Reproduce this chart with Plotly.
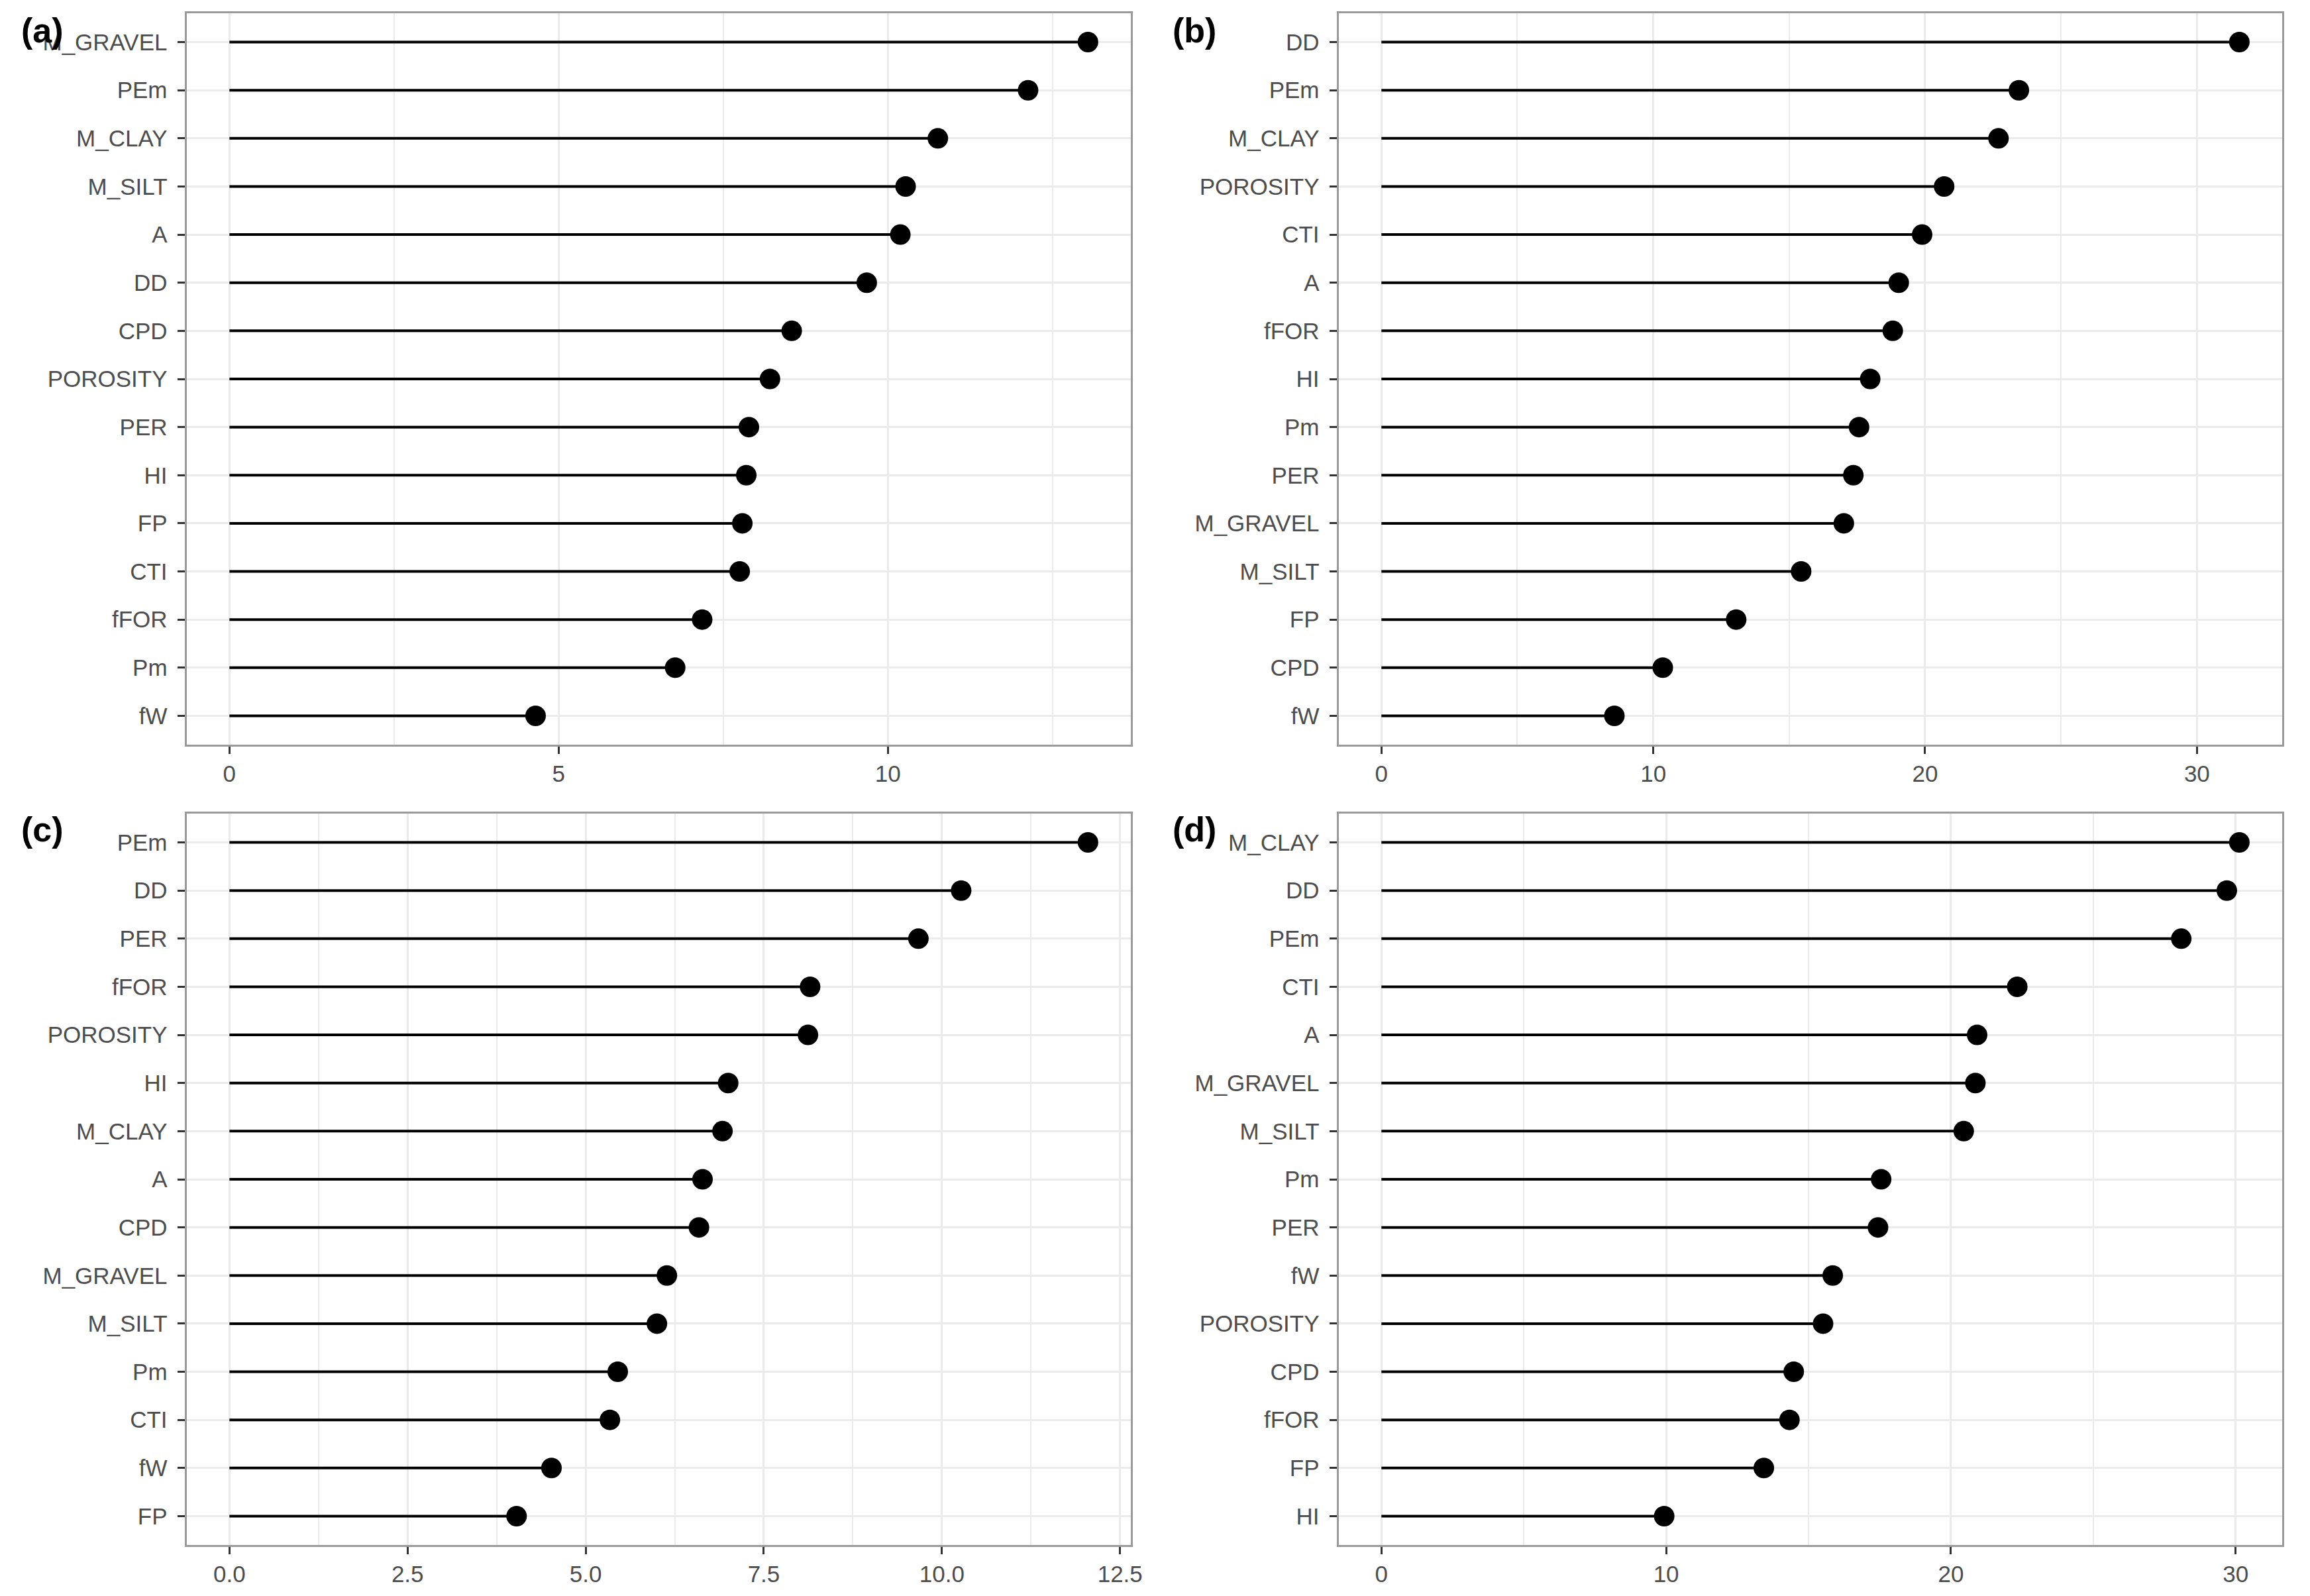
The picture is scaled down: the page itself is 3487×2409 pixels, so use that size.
import plotly.graph_objects as go

# ---------------- data (top-to-bottom order in each panel) ----------------
labels_a = ["M_GRAVEL", "PEm", "M_CLAY", "M_SILT", "A", "DD", "CPD", "POROSITY",
            "PER", "HI", "FP", "CTI", "fFOR", "Pm", "fW"]
values_a = [13.04, 12.13, 10.76, 10.27, 10.19, 9.68, 8.54, 8.21,
            7.89, 7.85, 7.79, 7.75, 7.18, 6.77, 4.65]

labels_b = ["DD", "PEm", "M_CLAY", "POROSITY", "CTI", "A", "fFOR", "HI",
            "Pm", "PER", "M_GRAVEL", "M_SILT", "FP", "CPD", "fW"]
values_b = [31.56, 23.45, 22.70, 20.70, 19.89, 19.03, 18.81, 17.98,
            17.57, 17.36, 17.01, 15.44, 13.05, 10.35, 8.57]

labels_c = ["PEm", "DD", "PER", "fFOR", "POROSITY", "HI", "M_CLAY", "A",
            "CPD", "M_GRAVEL", "M_SILT", "Pm", "CTI", "fW", "FP"]
values_c = [12.05, 10.27, 9.67, 8.15, 8.12, 7.00, 6.92, 6.64,
            6.59, 6.14, 6.00, 5.45, 5.34, 4.52, 4.03]

labels_d = ["M_CLAY", "DD", "PEm", "CTI", "A", "M_GRAVEL", "M_SILT", "Pm",
            "PER", "fW", "POROSITY", "CPD", "fFOR", "FP", "HI"]
values_d = [30.13, 29.69, 28.09, 22.33, 20.92, 20.86, 20.45, 17.55,
            17.44, 15.85, 15.51, 14.48, 14.33, 13.43, 9.93]

ticks_a = [0, 5, 10]
ticks_b = [0, 10, 20, 30]
ticks_c = [0, 2.5, 5, 7.5, 10, 12.5]
ticktext_c = ["0.0", "2.5", "5.0", "7.5", "10.0", "12.5"]
ticks_d = [0, 10, 20, 30]

panel_titles = ["(a)", "(b)", "(c)", "(d)"]

# ---------------- layout geometry ----------------
W, H = 3487, 2409
FONT = "Liberation Sans, Arial, sans-serif"
TICKCOL = "#4D4D4D"
GRID = "#EBEBEB"
BORDER = "#9A9A9A"

xdom = [[283 / W, 1716 / W], [2031 / W, 3463 / W]]
ydom = [[1 - 1124 / H, 1 - 20 / H], [1 - 2332 / H, 1 - 1228 / H]]

panels = [
    (labels_a, values_a, ticks_a, None, 0, 0),
    (labels_b, values_b, ticks_b, None, 1, 0),
    (labels_c, values_c, ticks_c, ticktext_c, 0, 1),
    (labels_d, values_d, ticks_d, None, 1, 1),
]

fig = go.Figure()
layout = dict(
    width=W, height=H, autosize=False,
    margin=dict(l=0, r=0, t=0, b=0),
    paper_bgcolor="white", plot_bgcolor="white",
    showlegend=False,
    font=dict(family=FONT, size=35, color=TICKCOL),
    annotations=[],
)

for i, (labs, vals, ticks, ttext, col, row) in enumerate(panels):
    n = i + 1
    xa = "x" if n == 1 else f"x{n}"
    ya = "y" if n == 1 else f"y{n}"

    # segments from 0 to value
    sx, sy = [], []
    for lab, v in zip(labs, vals):
        sx += [0, v, None]
        sy += [lab, lab, None]
    fig.add_trace(go.Scatter(x=sx, y=sy, mode="lines",
                             line=dict(color="black", width=4),
                             xaxis=xa, yaxis=ya, hoverinfo="skip"))
    fig.add_trace(go.Scatter(x=vals, y=labs, mode="markers",
                             marker=dict(color="black", size=31, line=dict(width=0)),
                             xaxis=xa, yaxis=ya))

    vmax = max(vals)
    step = ticks[1] - ticks[0]
    xkey = "xaxis" if n == 1 else f"xaxis{n}"
    ykey = "yaxis" if n == 1 else f"yaxis{n}"
    xdict = dict(
        domain=xdom[col], anchor=ya,
        range=[-0.05 * vmax, 1.05 * vmax],
        tickmode="array", tickvals=ticks,
        showgrid=True, gridcolor=GRID, gridwidth=3,
        zeroline=False,
        showline=True, linecolor=BORDER, linewidth=3, mirror=True,
        ticks="outside", ticklen=11, tickwidth=2.5, tickcolor="#333333",
        tickfont=dict(family=FONT, size=35, color=TICKCOL),
        minor=dict(tickmode="linear", tick0=0, dtick=step / 2, showgrid=True,
                   gridcolor=GRID, gridwidth=1.5, ticks=""),
    )
    if ttext is not None:
        xdict["ticktext"] = ttext
    layout[xkey] = xdict
    layout[ykey] = dict(
        domain=ydom[row], anchor=xa,
        type="category", categoryorder="array",
        categoryarray=list(reversed(labs)),
        range=[-0.6, len(labs) - 0.4],
        showgrid=True, gridcolor=GRID, gridwidth=3,
        zeroline=False,
        showline=True, linecolor=BORDER, linewidth=3, mirror=True,
        ticks="outside", ticklen=11, tickwidth=2.5, tickcolor="#333333",
        ticklabelstandoff=8,
        tickfont=dict(family=FONT, size=35, color=TICKCOL),
    )

    lx = 30 / W if col == 0 else 1777 / W
    ly = 1 - (46 / H) if row == 0 else 1 - (1252 / H)
    layout["annotations"].append(dict(
        text=f"<b>{panel_titles[i]}</b>", x=lx, y=ly, xref="paper", yref="paper",
        xanchor="left", yanchor="middle", showarrow=False,
        font=dict(family=FONT, size=52, color="black")))

fig.update_layout(**layout)
fig.write_html("out.html",
               config={"displayModeBar": False},
               post_script="document.body.style.margin='0px';"
                           "document.body.style.overflow='hidden';")
